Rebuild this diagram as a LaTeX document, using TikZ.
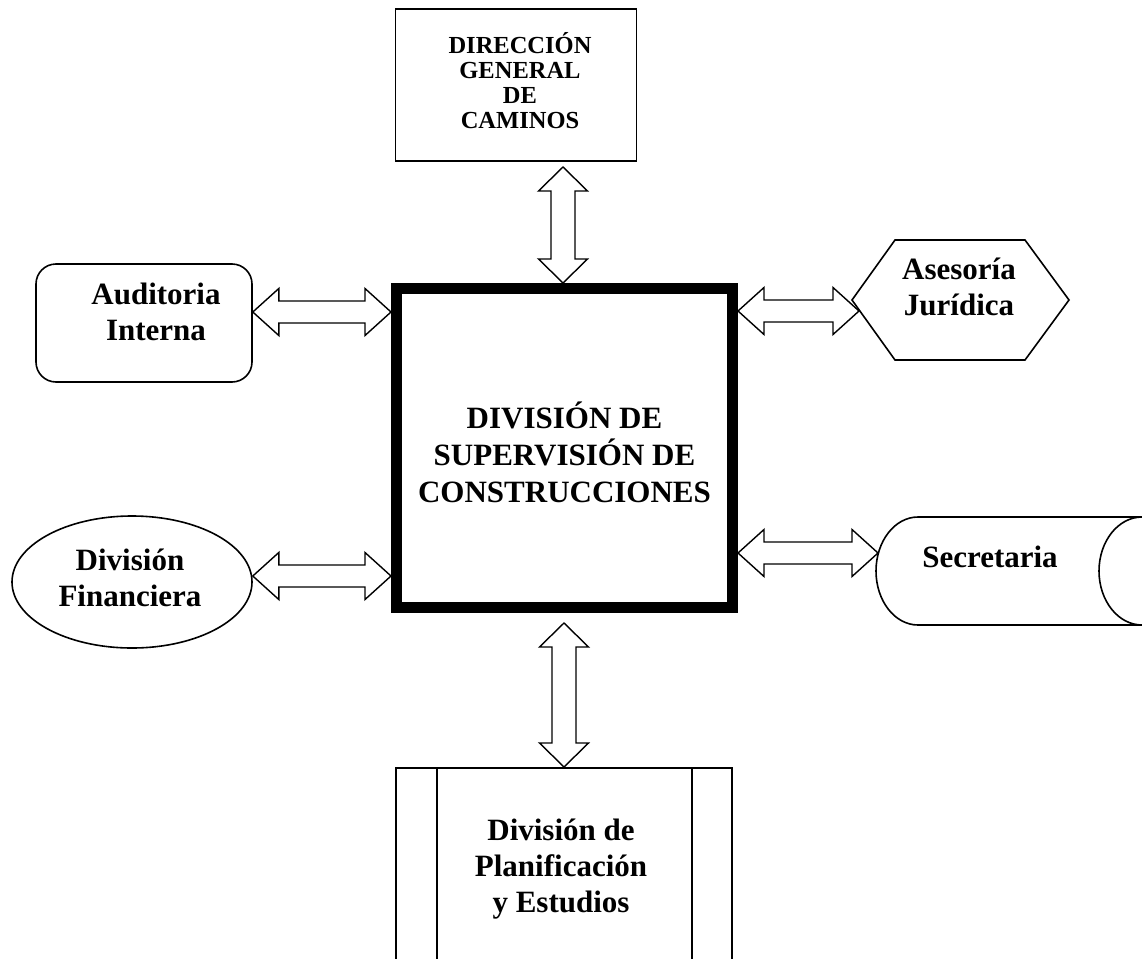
\documentclass[tikz,border=0pt]{standalone}
\usepackage{fontspec}
\setmainfont{Liberation Serif}
\usetikzlibrary{calc,shapes.geometric}
\newcommand\harrow[2]{\path[arr] let \p1=(#1),\p2=(#2) in
  (\x1,\y1) -- (\x1+26pt,\y1+23.5pt) -- (\x1+26pt,\y1+11pt) -- (\x2-26pt,\y1+11pt) -- (\x2-26pt,\y1+23.5pt) -- (\x2,\y1)
  -- (\x2-26pt,\y1-23.5pt) -- (\x2-26pt,\y1-11pt) -- (\x1+26pt,\y1-11pt) -- (\x1+26pt,\y1-23.5pt) -- cycle;}
\newcommand\varrow[2]{\path[arr] let \p1=(#1),\p2=(#2) in
  (\x1,\y1) -- (\x1+24.5pt,\y1-24pt) -- (\x1+12pt,\y1-24pt) -- (\x1+12pt,\y2+24pt) -- (\x1+24.5pt,\y2+24pt) -- (\x1,\y2)
  -- (\x1-24.5pt,\y2+24pt) -- (\x1-12pt,\y2+24pt) -- (\x1-12pt,\y1-24pt) -- (\x1-24.5pt,\y1-24pt) -- cycle;}
\begin{document}
\begin{tikzpicture}[x=1pt,y=-1pt,
  outl/.style={draw,line width=1.6pt,inner sep=0pt},
  lbl/.style={font=\bfseries\fontsize{31}{36}\selectfont,align=center,inner sep=0pt},
  arr/.style={draw,line width=1.4pt,fill=white,line join=miter}]
\path[use as bounding box] (0,0) rectangle (1142,958);
\clip (0,0) rectangle (1142,958);

% boxes
\node[outl,minimum width=241,minimum height=152] (dir) at (516,85) {};
\node[font=\bfseries\fontsize{24.5}{25}\selectfont,align=center,inner sep=0pt] (dirT) at (520,81) {DIRECCIÓN\\GENERAL\\DE\\CAMINOS};

\node[draw,line width=11pt,inner sep=0pt,minimum width=336,minimum height=319] (ctr) at (564.5,448) {};
\node[font=\bfseries\fontsize{31}{37}\selectfont,align=center,inner sep=0pt] (ctrT) at (564.5,452) {DIVISIÓN DE\\SUPERVISIÓN DE\\CONSTRUCCIONES};

\node[outl,rounded corners=20pt,minimum width=216,minimum height=118] (aud) at (144,323) {};
\node[lbl] (audT) at (156,312) {Auditoria\\Interna};

\node[outl,ellipse,minimum width=240,minimum height=132] (fin) at (132,582) {};
\node[lbl] (finT) at (130,578) {División\\Financiera};

% hexagon
\coordinate (hL) at (852,300);
\coordinate (hR) at (1069,300);
\draw[line width=1.6pt,line join=miter] (hL) -- (895,240) -- (1025,240) -- (hR) -- (1025,360) -- (895,360) -- cycle;
\node[lbl] (aseT) at (959,287) {Asesoría\\Jurídica};

% stored data (Secretaria)
\draw[line width=1.6pt] (918,517) -- (1142,517)
  arc[start angle=90,end angle=270,x radius=43pt,y radius=54pt] -- (918,625)
  arc[start angle=270,end angle=90,x radius=42pt,y radius=54pt];
\coordinate (secTip) at (878,553);
\node[lbl] (secT) at (990,557) {Secretaria};

% predefined process (bottom)
\draw[line width=1.6pt] (396,970) -- (396,768) -- (732,768) -- (732,970);
\draw[line width=1.6pt] (437,768) -- (437,970) (692,768) -- (692,970);
\coordinate (planTop) at (564,767);
\node[lbl] (plaT) at (561,869) {División de\\Planificación\\y Estudios};

% arrows
\coordinate (rA) at (0,312);
\coordinate (rH) at (0,311);
\coordinate (rF) at (0,576);
\coordinate (rS) at (0,553);
\coordinate (hexTip) at (859,311);
\coordinate (dirTip) at (563,167);
\coordinate (ctrBot) at (564,623);
\varrow{dirTip}{ctr.north}
\varrow{ctrBot}{planTop}
\harrow{aud.east |- rA}{ctr.west |- rA}
\harrow{fin.east |- rF}{ctr.west |- rF}
\harrow{ctr.east |- rH}{hexTip}
\harrow{ctr.east |- rS}{secTip}
\end{tikzpicture}
\end{document}
